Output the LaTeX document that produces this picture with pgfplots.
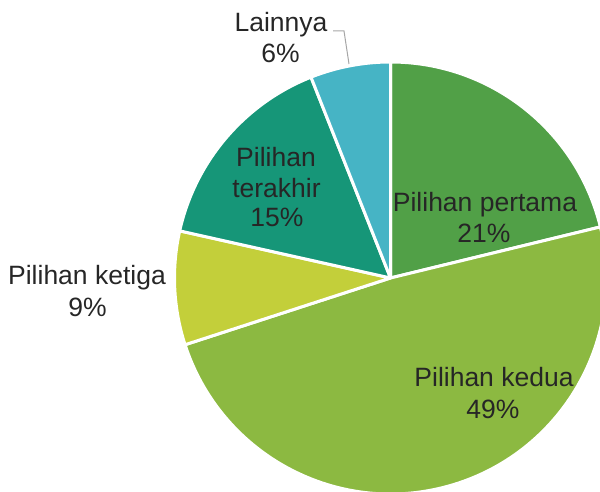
\documentclass[border=0pt]{standalone}
\usepackage{fontspec}
\setmainfont{Liberation Sans}
\usepackage{pgfplots}
\usepackage{pgfplotstable}
\pgfplotsset{compat=1.18}
\definecolor{cA}{HTML}{51A047}
\definecolor{cB}{HTML}{8CB941}
\definecolor{cC}{HTML}{C3CF3A}
\definecolor{cD}{HTML}{169678}
\definecolor{cE}{HTML}{46B4C5}
\definecolor{txt}{HTML}{262626}
\definecolor{lead}{HTML}{A6A6A6}
\pgfplotstableread{
value color
21.2 cA
48.8 cB
8.5 cC
15.5 cD
6.0 cE
}\piedata
\newcommand{\lbl}{\fontsize{26.5}{30}\selectfont}
\begin{document}
\begin{tikzpicture}
\useasboundingbox (0,0) rectangle (600pt,492pt);
\clip (0,0) rectangle (600pt,492pt);
\begin{axis}[at={(0,0)}, anchor=south west, scale only axis, width=600pt, height=492pt,
  xmin=0, xmax=600, ymin=0, ymax=492, hide axis, clip=false]
\pgfplotstablegetrowsof{\piedata}
\pgfmathtruncatemacro{\nrows}{\pgfplotsretval-1}
\gdef\curangle{90}
\pgfplotsforeachungrouped \i in {0,...,\nrows}{
  \pgfplotstablegetelem{\i}{value}\of{\piedata}\let\val\pgfplotsretval
  \pgfplotstablegetelem{\i}{color}\of{\piedata}\let\col\pgfplotsretval
  \pgfmathsetmacro{\endangle}{\curangle-3.6*\val}
  \edef\temp{\noexpand\fill[\col, draw=white, line width=3pt, line join=round] (axis cs:390.5,214) -- ++(\curangle:216pt) arc[start angle=\curangle, end angle=\endangle, radius=216pt] -- cycle;}
  \temp
  \global\let\curangle\endangle
}
\draw[lead, line width=1pt] (axis cs:333,461) -- (axis cs:344,461) -- (axis cs:349,428);
\node[anchor=base, font=\lbl, text=txt, inner sep=0pt] at (axis cs:485,280) {Pilihan pertama};
\node[anchor=base, font=\lbl, text=txt, inner sep=0pt] at (axis cs:484,249) {21\%};
\node[anchor=base, font=\lbl, text=txt, inner sep=0pt] at (axis cs:494,105) {Pilihan kedua};
\node[anchor=base, font=\lbl, text=txt, inner sep=0pt] at (axis cs:493,73) {49\%};
\node[anchor=base, font=\lbl, text=txt, inner sep=0pt] at (axis cs:276,325) {Pilihan};
\node[anchor=base, font=\lbl, text=txt, inner sep=0pt] at (axis cs:276.5,294) {terakhir};
\node[anchor=base, font=\lbl, text=txt, inner sep=0pt] at (axis cs:277,265) {15\%};
\node[anchor=base, font=\lbl, text=txt, inner sep=0pt] at (axis cs:87,207) {Pilihan ketiga};
\node[anchor=base, font=\lbl, text=txt, inner sep=0pt] at (axis cs:87.5,175) {9\%};
\node[anchor=base, font=\lbl, text=txt, inner sep=0pt] at (axis cs:281,460) {Lainnya};
\node[anchor=base, font=\lbl, text=txt, inner sep=0pt] at (axis cs:280.5,429) {6\%};
\end{axis}
\end{tikzpicture}
\end{document}
